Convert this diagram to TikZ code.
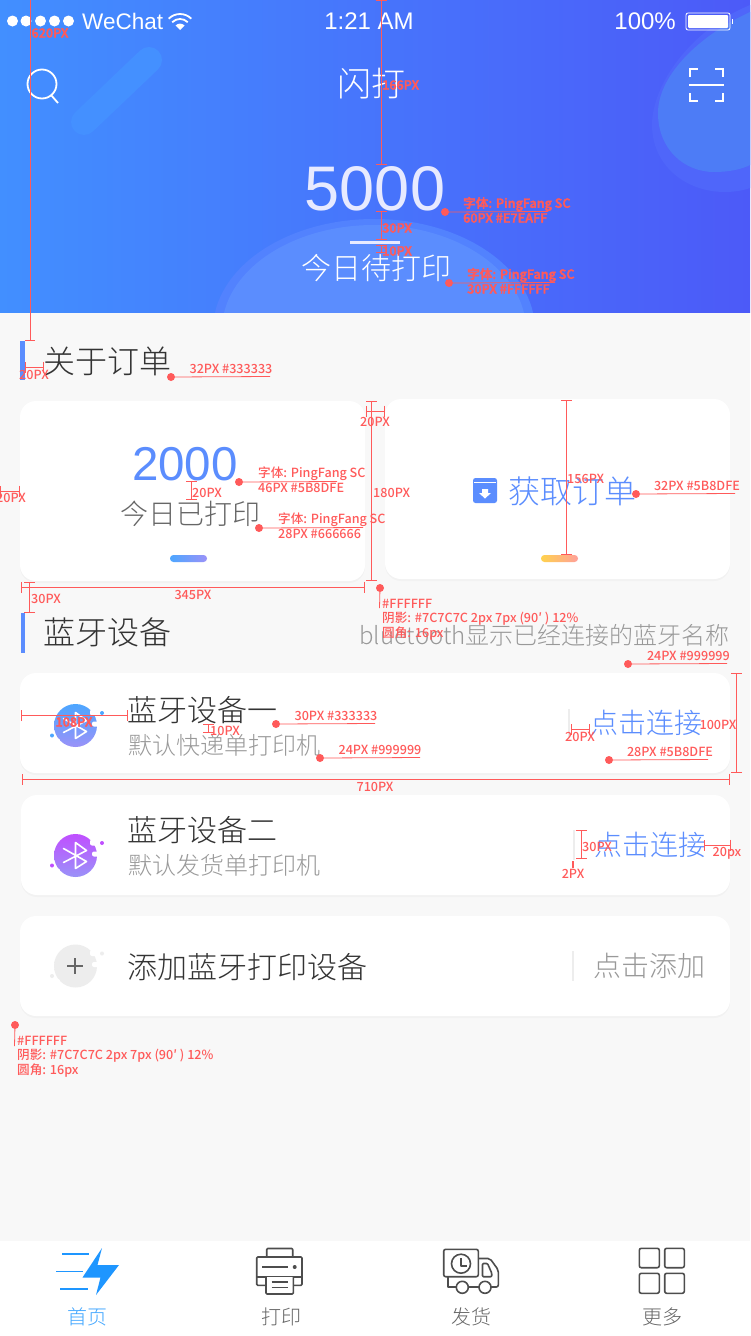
\documentclass[tikz,border=0pt]{standalone}
\usepackage{fontspec}
\setmainfont{Noto Sans CJK SC}
\newfontfamily\cjk{Noto Sans CJK SC Medium}
\newfontfamily\cjklight{Noto Sans CJK SC Light}
\newfontfamily\latin{Liberation Sans}
\usetikzlibrary{arrows.meta,shadows}
\definecolor{headl}{HTML}{428FFF}
\definecolor{headr}{HTML}{4C5AF8}
\definecolor{pagebg}{HTML}{F8F8F8}
\definecolor{brandblue}{HTML}{5B8DFE}
\definecolor{tabblue}{HTML}{1E96FF}
\definecolor{redmark}{HTML}{FF5A5A}
\definecolor{ink}{HTML}{333333}
\definecolor{midgray}{HTML}{666666}
\definecolor{softgray}{HTML}{999999}
\definecolor{icongray}{HTML}{4D4D4D}
\definecolor{skyblue}{HTML}{4DA6FF}
\definecolor{softviolet}{HTML}{9A92F8}
\definecolor{brightpurple}{HTML}{C04FFF}
\definecolor{sunyellow}{HTML}{FFD24D}
\definecolor{softcoral}{HTML}{FFA09A}
\definecolor{capsule}{HTML}{4490FF}
\definecolor{blobout}{HTML}{4F66FA}
\definecolor{blobin}{HTML}{4D7CF6}
\definecolor{moundout}{HTML}{5282FE}
\definecolor{countwhite}{HTML}{E7EAFF}
\newcommand\fs[1]{\fontsize{#1}{#1}\selectfont}
% round badge with the two spots and the white bites
\newcommand\blob[3]{
\shade[top color=#2,bottom color=#3] (75.5,#1) circle[radius=21.5];
\fill[white,rounded corners=2] (90,#1-16) rectangle (100,#1-10);
\fill[white,rounded corners=2] (92,#1-4) rectangle (100,#1+1);
\fill[white,rounded corners=2] (50,#1+13) rectangle (60,#1+17);
\fill[#2] (102,#1-12.5) circle[radius=2];
\fill[#2] (52,#1+10) circle[radius=2];
}
% bluetooth rune on a badge
\newcommand\rune[1]{
\draw[white,line width=1.6pt,line join=round,line cap=round] (63.5,#1+7)--(86.5,#1-5)--(75.5,#1-13)--(75.5,#1+13)--(86.5,#1+6)--(63.5,#1-7);
}
\tikzset{
  every node/.style={inner sep=0pt},
  cardbox/.style={fill=white,rounded corners=16,drop shadow={shadow xshift=0pt,shadow yshift=-2pt,opacity=.025,fill=black}},
  marktext/.style={text=redmark,font=\cjk\fs{12.6}},
  markhalo/.style={text=redmark,font=\cjk\fs{12.6}\special{pdf:code 2 Tr 0.35 w 1 0.82 0.82 RG}},
  markdot/.style={circle,fill=redmark,minimum size=8pt},
  markline/.style={redmark,line width=.8pt},
  dimline/.style={redmark,line width=.7pt,{Bar[width=11pt,line width=.7pt]}-{Bar[width=11pt,line width=.7pt]}},
  iconline/.style={icongray,line width=1.6pt,line join=round},
  tablabel/.style={font=\cjklight\fs{20}}
}
\begin{document}
\begin{tikzpicture}[x=1pt,y=-1pt]
\useasboundingbox (0,0) rectangle (750,1336);
\fill[pagebg] (0,0) rectangle (750,1336);
% header
\begin{scope}
\clip (0,0) rectangle (750,312);
\shade[left color=headl,right color=headr] (0,0) rectangle (750,312);
\draw[color=capsule,line width=26pt,line cap=round] (149,60)--(84,122);
\fill[blobout] (750,5) .. controls (690,30) and (652,85) .. (652,125) .. controls (652,165) and (685,192) .. (725,192) .. controls (735,192) and (745,190) .. (750,188) -- cycle;
\fill[blobin] (750,12) .. controls (700,35) and (658,75) .. (658,113) .. controls (658,150) and (685,172) .. (714,172) .. controls (730,172) and (742,169) .. (750,165) -- cycle;
\fill[moundout] (374,330) ellipse[x radius=161,y radius=111];
\fill[brandblue] (374,330) ellipse[x radius=152,y radius=105];
\end{scope}
% status bar
\foreach \x in {12.5,26,40.5,54.5,68.5} \fill[white] (\x,21) circle[radius=5.5];
\node[anchor=west,white,font=\latin\fs{22.5}] (carrier) at (82,21) {WeChat};
\fill[white] (180,30) -- (175.5,25.5) arc (225:315:6.4) -- cycle;
\draw[white,line width=1.8pt] (172.2,22.2) arc (225:315:11);
\draw[white,line width=1.8pt] (168.7,18.7) arc (225:315:16);
\node[white,font=\latin\fs{24}] (clock) at (369,21) {1:21 AM};
\node[anchor=east,white,font=\latin\fs{24}] (percent) at (676,21) {100\%};
\draw[white,rounded corners=2,line width=.8pt] (686,13) rectangle (730,30);
\fill[white,rounded corners=1] (688,15) rectangle (728,28);
\fill[white] (731.5,19) rectangle (733,24);
% title row
\draw[white,line width=1.8pt] (42,84) circle[radius=14.5];
\draw[white,line width=1.8pt] (51,95)--(58,103);
\node[white,font=\cjklight\fs{34}] (title) at (371,84) {闪打};
\draw[white,line width=1.8pt] (690,77)--(690,69)--(698,69);
\draw[white,line width=1.8pt] (715,69)--(723,69)--(723,77);
\draw[white,line width=1.8pt] (690,93)--(690,101)--(698,101);
\draw[white,line width=1.8pt] (715,101)--(723,101)--(723,93);
\draw[white,line width=1.8pt] (689,85)--(724,85);
% today count
\node[text=countwhite,font=\latin\fs{63}] (todo) at (375,188.5) {5000};
\fill[countwhite] (350,240.5) rectangle (400,243.5);
\node[white,font=\cjklight\fs{30}] (todolabel) at (376,268) {今日待打印};
% header marks
\draw[redmark,line width=.6pt] (30,0)--(30,340);
\draw[redmark,line width=.6pt] (25,340)--(35,340);
\draw[dimline] (381.5,0)--(381.5,165);
\draw[dimline] (381.5,211)--(381.5,240);
\draw[dimline] (381.5,245)--(381.5,253);
\node[markhalo] (m620) at (50,33) {620PX};
\node[markhalo,anchor=west] (m166) at (382,85) {166PX};
\node[markhalo,anchor=west] (m30a) at (382,228) {30PX};
\node[markhalo,anchor=west] (m10a) at (382,251) {10PX};
\node[markdot] (d5000) at (445,212) {};
\coordinate (e5000) at (548,211.5);
\draw[markline] (d5000)--(e5000);
\node[markhalo,anchor=west] (f5000) at (463,204) {字体: PingFang SC};
\node[markhalo,anchor=west] (s5000) at (463,218) {60PX \#E7EAFF};
\node[markdot] (dtodo) at (449,283) {};
\coordinate (etodo) at (555,282.5);
\draw[markline] (dtodo)--(etodo);
\node[markhalo,anchor=west] (ftodo) at (467,275) {字体: PingFang SC};
\node[markhalo,anchor=west] (stodo) at (467,289) {30PX \#FFFFFF};
% order section
\fill[brandblue] (20,341) rectangle (24.5,380);
\node[text=ink,font=\cjklight\fs{32}] (orderhead) at (107,361) {关于订单};
\draw[dimline] (24.5,367)--(43.5,367);
\node[marktext] (m20a) at (34,375) {20PX};
\node[markdot] (dorder) at (171,377) {};
\coordinate (eorder) at (270,376.5);
\draw[markline] (dorder)--(eorder);
\node[marktext] (sorder) at (231,369) {32PX \#333333};
% the two cards
\fill[cardbox] (20,401) rectangle (365,581);
\fill[cardbox] (385,399) rectangle (730,579);
\node[text=brandblue,font=\latin\fs{47.5}] (printed) at (185,464) {2000};
\node[text=midgray,font=\cjklight\fs{28}] (printedlabel) at (190,514) {今日已打印};
\shade[left color=skyblue,right color=softviolet,rounded corners=3.4] (170,555) rectangle (207,562);
\fill[brandblue,rounded corners=2.5] (473,478) rectangle (497,503);
\fill[white] (474,481.5) rectangle (496,483);
\fill[white] (482,489) rectangle (488,493) -- (491,493) -- (485,498.5) -- (479,493) -- cycle;
\node[text=brandblue,font=\cjklight\fs{32}] (fetch) at (572,491) {获取订单};
\shade[left color=sunyellow,right color=softcoral,rounded corners=3.4] (541,555) rectangle (578,562);
% card marks
\draw[dimline] (0,491)--(19.5,491);
\node[marktext] (m20b) at (11,498) {20PX};
\node[markdot] (dcount) at (239,482) {};
\coordinate (ecount) at (337,481.5);
\draw[markline] (dcount)--(ecount);
\node[marktext,anchor=west] (fcount) at (258,474) {字体: PingFang SC};
\node[marktext,anchor=west] (scount) at (258,488) {46PX \#5B8DFE};
\draw[dimline] (191.5,481)--(191.5,500);
\node[marktext,anchor=west] (m20c) at (192,493) {20PX};
\node[markdot] (dlabel) at (259,528) {};
\coordinate (elabel) at (363,527.5);
\draw[markline] (dlabel)--(elabel);
\node[marktext,anchor=west] (flabel) at (278,520) {字体: PingFang SC};
\node[marktext,anchor=west] (slabel) at (278,534) {28PX \#666666};
\draw[dimline] (371.5,401)--(371.5,581);
\node[marktext,anchor=west] (m180) at (373,493) {180PX};
\draw[dimline] (365.5,411)--(384.5,411);
\node[marktext] (m20d) at (375,422) {20PX};
\draw[dimline] (20.5,587)--(364.5,587);
\node[marktext] (m345) at (193,595) {345PX};
\draw[dimline] (29.5,582)--(29.5,612.5);
\node[marktext,anchor=west] (m30b) at (31,599) {30PX};
\draw[dimline] (566.5,399.5)--(566.5,555);
\node[marktext,anchor=west] (m156) at (567,479) {156PX};
\node[markdot] (dfetch) at (636,494) {};
\coordinate (efetch) at (735,493.5);
\draw[markline] (dfetch)--(efetch);
\node[marktext] (sfetch) at (697,486) {32PX \#5B8DFE};
% bluetooth section
\fill[brandblue] (21,613) rectangle (25,653);
\node[text=ink,font=\cjklight\fs{32}] (blehead) at (107,632) {蓝牙设备};
\node[anchor=east,text=softgray,font=\cjklight\fs{24}] (blehint) at (730,635) {bluetooth显示已经连接的蓝牙名称};
\node[markdot] (dcard) at (380,588) {};
\coordinate (ecard) at (379.5,608);
\draw[markline] (dcard)--(ecard);
\node[marktext,anchor=west] (cfill) at (382,604) {\#FFFFFF};
\node[marktext,anchor=west] (cshadow) at (382,619) {阴影: \#7C7C7C 2px 7px (90′ ) 12\%};
\node[marktext,anchor=west] (cround) at (382,634) {圆角: 16px};
\node[markdot] (dhint) at (628,664) {};
\coordinate (ehint) at (727,663.5);
\draw[markline] (dhint)--(ehint);
\node[marktext,anchor=east] (shint) at (730,656) {24PX \#999999};
% device cards
\fill[cardbox] (20,673) rectangle (730,773);
\fill[cardbox] (21,795) rectangle (730,895);
\fill[cardbox] (20,916) rectangle (730,1016);
\blob{725.5}{skyblue}{softviolet}
\rune{725.5}
\blob{855.5}{brightpurple}{softviolet}
\rune{855.5}
\blob{966}{black!7}{black!7}
\draw[midgray,line width=1.5pt] (67,966)--(83,966);
\draw[midgray,line width=1.5pt] (75,958)--(75,974);
\node[anchor=west,text=ink,font=\cjklight\fs{30}] (dev1) at (127,710) {蓝牙设备一};
\node[anchor=west,text=softgray,font=\cjklight\fs{24}] (dev1sub) at (128,745) {默认快递单打印机};
\node[anchor=west,text=ink,font=\cjklight\fs{30}] (dev2) at (127,830) {蓝牙设备二};
\node[anchor=west,text=softgray,font=\cjklight\fs{24}] (dev2sub) at (128,865) {默认发货单打印机};
\node[anchor=west,text=ink,font=\cjklight\fs{30}] (addnew) at (127,967) {添加蓝牙打印设备};
\fill[black!7] (568,709) rectangle (570,738);
\fill[black!7] (572.5,830) rectangle (574.5,860);
\fill[black!7] (572,951) rectangle (574,981);
\node[text=brandblue,font=\cjklight\fs{28}] (link1) at (646.5,723) {点击连接};
\node[text=brandblue,font=\cjklight\fs{28}] (link2) at (650,845) {点击连接};
\node[text=softgray,font=\cjklight\fs{28}] (addbtn) at (649,966) {点击添加};
% device marks
\draw[dimline] (20.5,715.5)--(127.5,715.5);
\node[markhalo] (m108) at (74,722) {108PX};
\node[markdot] (ddev) at (276,724) {};
\coordinate (edev) at (375,723.5);
\draw[markline] (ddev)--(edev);
\node[marktext] (sdev) at (336,716) {30PX \#333333};
\draw[dimline] (208.5,723.5)--(208.5,733);
\node[marktext,anchor=west] (m10b) at (210,731) {10PX};
\node[markdot] (dsub) at (320,758) {};
\coordinate (esub) at (420,757.5);
\draw[markline] (dsub)--(esub);
\node[marktext] (ssub) at (380,750) {24PX \#999999};
\draw[dimline] (21.5,779)--(729.5,779);
\node[marktext] (m710) at (375,787) {710PX};
\draw[dimline] (570.5,729.5)--(589.5,729.5);
\node[marktext] (m20e) at (580,737) {20PX};
\node[markdot] (dlink) at (609,760) {};
\coordinate (elink) at (708,759.5);
\draw[markline] (dlink)--(elink);
\node[marktext] (slink) at (670,752) {28PX \#5B8DFE};
\draw[dimline] (736.5,673)--(736.5,772.5);
\node[marktext] (m100) at (718,725) {100PX};
\draw[dimline] (581,830)--(581,859);
\node[marktext,anchor=west] (m30c) at (582,847) {30PX};
\draw[redmark,line width=2pt] (573,861)--(573,868);
\node[marktext] (m2) at (573,874) {2PX};
\draw[dimline] (704,845)--(731,845);
\node[marktext] (m20f) at (727,853) {20px};
\node[markdot] (dadd) at (15,1025) {};
\coordinate (eadd) at (14.5,1046);
\draw[markline] (dadd)--(eadd);
\node[marktext,anchor=west] (afill) at (17,1041) {\#FFFFFF};
\node[marktext,anchor=west] (ashadow) at (17,1056) {阴影: \#7C7C7C 2px 7px (90′ ) 12\%};
\node[marktext,anchor=west] (around) at (17,1071) {圆角: 16px};
% tab bar
\fill[white] (0,1241) rectangle (750,1336);
\draw[tabblue,line width=1.5pt] (62,1254)--(89,1254);
\draw[tabblue,line width=1.5pt] (56,1271.5)--(83,1271.5);
\draw[tabblue,line width=1.5pt] (60,1289)--(88,1289);
\fill[tabblue] (102,1248)--(97.5,1265)--(119,1265)--(96,1295)--(100.5,1277.5)--(82.5,1277.5)--cycle;
\node[text=tabblue!85!white,tablabel] (tab1) at (87,1317) {首页};
\draw[iconline,rounded corners=1] (266.7,1257)--(266.7,1248.5)--(292.7,1248.5)--(292.7,1257);
\draw[iconline,rounded corners=1] (266,1285.3)--(256.7,1285.3)--(256.7,1257)--(302,1257)--(302,1285.3)--(293.3,1285.3);
\draw[iconline] (256.7,1277)--(302,1277);
\draw[iconline,fill=white,rounded corners=1] (266,1277)--(266,1294)--(293.3,1294)--(293.3,1277);
\draw[iconline] (262.3,1267)--(288.3,1267);
\fill[icongray] (294.7,1267) circle[radius=2];
\draw[iconline] (271.7,1282)--(287.7,1282);
\draw[iconline] (271.7,1287.5)--(287.7,1287.5);
\node[text=midgray,tablabel] (tab2) at (281,1317) {打印};
\draw[iconline,rounded corners=2] (443.7,1249.3) rectangle (478.3,1276.7);
\draw[iconline] (461,1263.7) circle[radius=9.5];
\draw[iconline,line width=1.3pt] (461,1258.3)--(461,1266)--(466.7,1266);
\draw[iconline] (447.7,1276.7)--(447.7,1287)--(456,1287);
\draw[iconline] (468.5,1287)--(479,1287);
\draw[iconline,rounded corners=2] (478.3,1258.5)--(490,1258.5)--(498.3,1270)--(498.3,1287)--(491,1287);
\draw[iconline,rounded corners=1] (482.5,1263.5)--(487.5,1263.5)--(491.7,1273)--(491.7,1276.7)--(482.5,1276.7)--cycle;
\draw[iconline] (462.3,1287.3) circle[radius=6];
\draw[iconline] (485,1287.3) circle[radius=6];
\node[text=midgray,tablabel] (tab3) at (471,1317) {发货};
\draw[iconline,rounded corners=2] (639.3,1248.3) rectangle (659.3,1267.7);
\draw[iconline,rounded corners=2] (664.7,1248.3) rectangle (684.3,1267.7);
\draw[iconline,rounded corners=2] (639.3,1273.3) rectangle (659.3,1293.3);
\draw[iconline,rounded corners=2] (664.7,1273.3) rectangle (684.3,1293.3);
\node[text=midgray,tablabel] (tab4) at (662.5,1317) {更多};
\end{tikzpicture}
\end{document}
